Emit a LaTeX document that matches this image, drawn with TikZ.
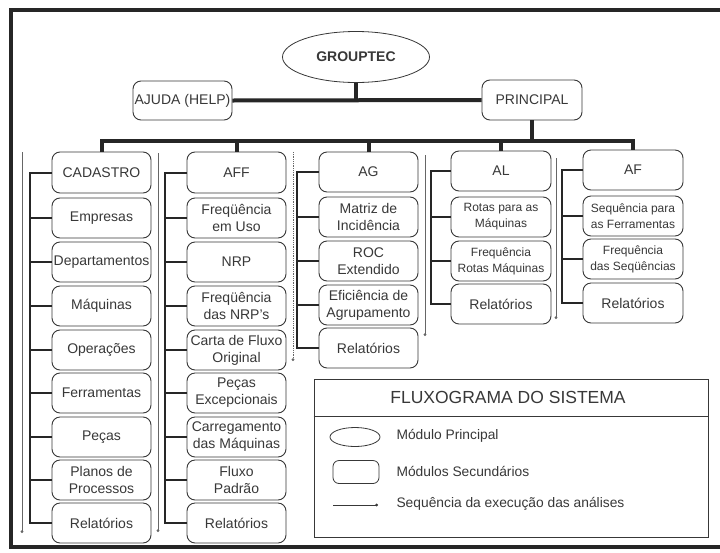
\documentclass[tikz,border=0pt]{standalone}
\usepackage{fontspec}
\setmainfont{Liberation Sans}
\usetikzlibrary{shapes.geometric,arrows.meta}
\definecolor{ink}{gray}{0.22}
\begin{document}
\begin{tikzpicture}[x=1pt,y=-1pt,
  every node/.style={text=ink},
  mbox/.style={draw=ink, line width=0.9pt, rounded corners=8pt, minimum width=99pt, minimum height=40pt, inner sep=1pt, align=center, font=\fontsize{14}{17}\selectfont},
  sbox/.style={mbox, font=\fontsize{12}{16}\selectfont},
  thickline/.style={draw=black!85, line width=4pt},
  colline/.style={draw=black!85, line width=2pt},
  seqline/.style={draw=black!60, line width=0.8pt, -{Circle[length=2.8pt]}},
  legtext/.style={anchor=west, font=\fontsize{13.8}{16}\selectfont}]
\useasboundingbox (0,0) rectangle (720,552);
\fill[white] (0,0) rectangle (720,552);
% outer frame
\draw[draw=black!85, line width=3.5pt] (724,10) -- (11,10) -- (11,547) -- (724,547);

% top level
\node[draw=ink, line width=0.8pt, ellipse, minimum width=147pt, minimum height=51pt, inner sep=0pt, font=\bfseries\fontsize{14}{16}\selectfont] (gt) at (356,57) {GROUPTEC};
\node[mbox, minimum height=39pt] (aj) at (182.5,100.5) {AJUDA (HELP)};
\node[mbox, minimum width=100pt] (pr) at (532,100) {PRINCIPAL};
\draw[thickline] (aj.east) -- (pr.west);
\draw[thickline] (gt.south) -- (gt.south |- aj.east);

% column heads
\node[mbox, minimum height=41pt] (cad) at (101.5,172.5) {CADASTRO};
\node[mbox, minimum height=41pt] (aff) at (236.5,172.5) {AFF};
\node[mbox] (ag) at (368.5,172) {AG};
\node[mbox, minimum width=100pt] (al) at (501,171) {AL};
\node[mbox, minimum width=100pt] (af) at (633,170) {AF};
\coordinate (bus) at (0,141);
\draw[thickline] (cad.north) -- (cad.north |- bus);
\draw[thickline] (aff.north) -- (aff.north |- bus);
\draw[thickline] (ag.north) -- (ag.north |- bus);
\draw[thickline] (al.north) -- (al.north |- bus);
\draw[thickline] (af.north) -- (af.north |- bus);
\draw[thickline] (pr.south) -- (pr.south |- bus);
\draw[thickline, line cap=rect] (cad.north |- bus) -- (af.north |- bus);

% CADASTRO column
\node[mbox] (c1) at (101.5,218) {Empresas};
\node[mbox] (c2) at (101.5,262) {Departamentos};
\node[mbox] (c3) at (101.5,306) {Máquinas};
\node[mbox] (c4) at (101.5,350) {Operações};
\node[mbox] (c5) at (101.5,393) {Ferramentas};
\node[mbox] (c6) at (101.5,437) {Peças};
\node[mbox] (c7) at (101.5,480) {Planos de\\Processos};
\node[mbox] (c8) at (101.5,523) {Relatórios};
\draw[colline] (cad.west) -- ++(-22,0) |- (c8.west);
\foreach \n in {c1,c2,c3,c4,c5,c6,c7} \draw[colline] (\n.west) -- ++(-22,0);

% AFF column
\node[mbox] (f1) at (236.5,218) {Freqüência\\em Uso};
\node[mbox] (f2) at (236.5,262) {NRP};
\node[mbox] (f3) at (236.5,306) {Freqüência\\das NRP's};
\node[mbox] (f4) at (236.5,350) {Carta de Fluxo\\Original};
\node[mbox] (f5) at (236.5,393) {Peças\\Excepcionais};
\node[mbox] (f6) at (236.5,437) {Carregamento\\das Máquinas};
\node[mbox] (f7) at (236.5,480) {Fluxo\\Padrão};
\node[mbox] (f8) at (236.5,523) {Relatórios};
\draw[colline] (aff.west) -- ++(-22,0) |- (f8.west);
\foreach \n in {f1,f2,f3,f4,f5,f6,f7} \draw[colline] (\n.west) -- ++(-22,0);

% AG column
\node[mbox] (g1) at (368.5,217) {Matriz de\\Incidência};
\node[mbox] (g2) at (368.5,261) {ROC\\Extendido};
\node[mbox] (g3) at (368.5,305) {Eficiência de\\Agrupamento};
\node[mbox] (g4) at (368.5,348) {Relatórios};
\draw[colline] (ag.west) -- ++(-22,0) |- (g4.west);
\foreach \n in {g1,g2,g3} \draw[colline] (\n.west) -- ++(-22,0);

% AL column
\node[sbox, minimum width=100pt] (l1) at (501,217) {Rotas para as\\Máquinas};
\node[sbox, minimum width=100pt] (l2) at (501,261) {Frequência\\Rotas Máquinas};
\node[mbox, minimum width=100pt] (l3) at (501,304) {Relatórios};
\draw[colline] (al.west) -- ++(-20,0) |- (l3.west);
\foreach \n in {l1,l2} \draw[colline] (\n.west) -- ++(-20,0);

% AF column
\node[sbox, minimum width=100pt] (a1) at (633,216) {Sequência para\\as Ferramentas};
\node[sbox, minimum width=100pt] (a2) at (633,259) {Frequência\\das Seqüências};
\node[mbox, minimum width=100pt] (a3) at (633,303) {Relatórios};
\draw[colline] (af.west) -- ++(-21,0) |- (a3.west);
\foreach \n in {a1,a2} \draw[colline] (\n.west) -- ++(-21,0);

% sequence lines
\coordinate (s1a) at (22,152);  \coordinate (s1b) at (22,533);
\coordinate (s2a) at (158,153); \coordinate (s2b) at (158,532);
\coordinate (s3a) at (293,152); \coordinate (s3b) at (293,361);
\coordinate (s4a) at (425,155); \coordinate (s4b) at (425,336);
\coordinate (s5a) at (556,158); \coordinate (s5b) at (556,319);
\draw[seqline] (s1a) -- (s1b);
\draw[seqline] (s2a) -- (s2b);
\draw[seqline, densely dotted] (s3a) -- (s3b);
\draw[seqline] (s4a) -- (s4b);
\draw[seqline] (s5a) -- (s5b);

% legend
\node[draw=ink, line width=0.8pt, minimum width=394pt, minimum height=158pt, inner sep=0pt] (leg) at (511,458) {};
\coordinate (legsep) at (0,416);
\draw[draw=ink, line width=0.8pt] (leg.west |- legsep) -- (leg.east |- legsep);
\node[font=\fontsize{17.5}{19}\selectfont] (legt) at (508,397.5) {FLUXOGRAMA DO SISTEMA};
\node[draw=ink, line width=0.8pt, ellipse, minimum width=50pt, minimum height=19pt, inner sep=0pt] (le) at (355,437) {};
\node[draw=ink, line width=0.8pt, rounded corners=6pt, minimum width=46pt, minimum height=23pt, inner sep=0pt] (lr) at (356,472) {};
\coordinate (lla) at (333,505); \coordinate (llb) at (378,505);
\draw[seqline, draw=ink] (lla) -- (llb);
\node[legtext] (t1) at (393,436) {Módulo Principal};
\node[legtext] (t2) at (393,471) {Módulos Secundários};
\node[legtext] (t3) at (393,504) {Sequência da execução das análises};
\end{tikzpicture}
\end{document}
